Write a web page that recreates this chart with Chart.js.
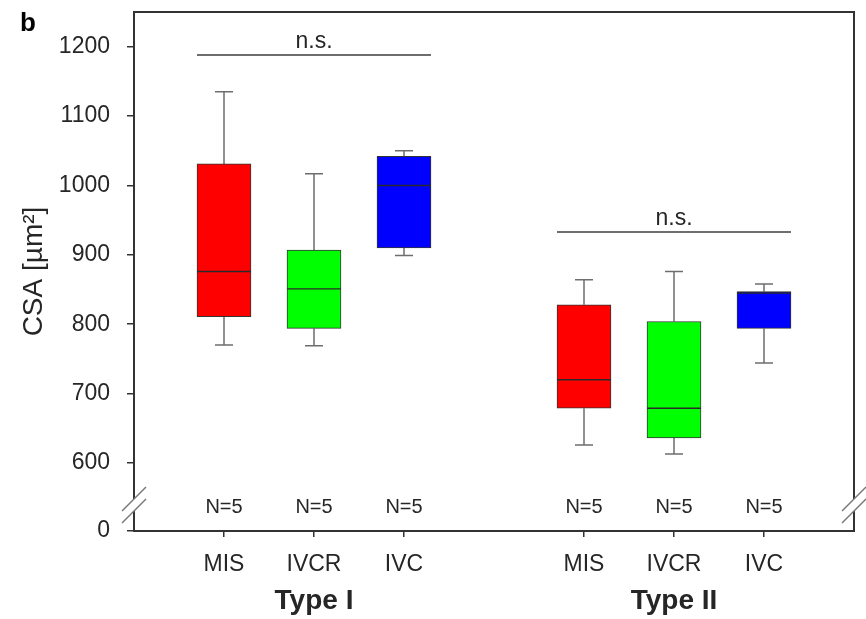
<!DOCTYPE html>
<html>
<head>
<meta charset="utf-8">
<script src="https://cdn.jsdelivr.net/npm/chart.js@4.4.1/dist/chart.umd.min.js"></script>
<style>
  html, body { margin: 0; padding: 0; background: #fff; }
  #wrap { width: 866px; height: 619px; position: relative; }
</style>
</head>
<body>
<div id="wrap"><canvas id="chart"></canvas></div>
<script>
const groups = ['Type I', 'Type II'];
const methods = ['MIS', 'IVCR', 'IVC'];
const methodColors = ['#ff0000', '#00ff00', '#0000ff'];
// one entry per box: Type I MIS, IVCR, IVC, then Type II MIS, IVCR, IVC
const whiskerLow  = [770, 769, 899, 626, 613, 744];
const boxLow      = [811, 794, 910, 679, 636, 794];
const medians     = [876, 851, 1000, 720, 679, 845];
const boxHigh     = [1031, 907, 1042, 828, 804, 847];
const whiskerHigh = [1135, 1017, 1050, 864, 876, 858];
const sampleSizes = [5, 5, 5, 5, 5, 5];
const sigLevels = [1188, 933];
const sigLabels = ['n.s.', 'n.s.'];
const yTicks = [600, 700, 800, 900, 1000, 1100, 1200];
const yBreakValue = 502;   // bottom of the broken axis, labelled "0"
const yBreakLabel = '0';
const yMax = 1250;

const FONT = "'Liberation Sans', Arial, sans-serif";
const TEXT = '#262626';

// slots: empty, 3 methods, empty, 3 methods, empty
const labels = [''];
const slotBox = [null];
groups.forEach((g, gi) => {
  if (gi > 0) { labels.push(''); slotBox.push(null); }
  methods.forEach((m, mi) => { labels.push(m); slotBox.push(gi * methods.length + mi); });
});
labels.push(''); slotBox.push(null);

const boxPlot = {
  id: 'boxPlot',
  beforeDatasetsDraw(chart) {
    const { ctx, scales: { x, y } } = chart;
    ctx.save();
    ctx.strokeStyle = '#6e6e6e';
    ctx.lineWidth = 1.5;
    slotBox.forEach((b, i) => {
      if (b === null) return;
      const px = x.getPixelForValue(i);
      [[boxHigh[b], whiskerHigh[b]], [boxLow[b], whiskerLow[b]]].forEach(([from, to]) => {
        ctx.beginPath();
        ctx.moveTo(px, y.getPixelForValue(from));
        ctx.lineTo(px, y.getPixelForValue(to));
        ctx.moveTo(px - 9, y.getPixelForValue(to));
        ctx.lineTo(px + 9, y.getPixelForValue(to));
        ctx.stroke();
      });
    });
    ctx.restore();
  },
  afterDatasetsDraw(chart) {
    const { ctx, chartArea: a, scales: { x, y } } = chart;
    ctx.save();
    // medians
    ctx.strokeStyle = '#2a2a2a';
    ctx.lineWidth = 1.4;
    slotBox.forEach((b, i) => {
      if (b === null) return;
      const px = x.getPixelForValue(i);
      const py = y.getPixelForValue(medians[b]);
      ctx.beginPath();
      ctx.moveTo(px - 27, py);
      ctx.lineTo(px + 27, py);
      ctx.stroke();
    });
    // N labels
    ctx.fillStyle = TEXT;
    ctx.font = '20px ' + FONT;
    ctx.textAlign = 'center';
    ctx.textBaseline = 'alphabetic';
    slotBox.forEach((b, i) => {
      if (b === null) return;
      ctx.fillText('N=' + sampleSizes[b], x.getPixelForValue(i), a.bottom - 18);
    });
    // significance bars
    groups.forEach((g, gi) => {
      const first = slotBox.indexOf(gi * methods.length);
      const last = slotBox.indexOf(gi * methods.length + methods.length - 1);
      const x0 = x.getPixelForValue(first) - 27;
      const x1 = x.getPixelForValue(last) + 27;
      const py = y.getPixelForValue(sigLevels[gi]);
      ctx.strokeStyle = '#6e6e6e';
      ctx.lineWidth = 2;
      ctx.beginPath();
      ctx.moveTo(x0, py);
      ctx.lineTo(x1, py);
      ctx.stroke();
      ctx.font = '23px ' + FONT;
      ctx.fillText(sigLabels[gi], (x0 + x1) / 2, py - 7);
      // group name under the axis
      const mid = slotBox.indexOf(gi * methods.length + 1);
      ctx.font = 'bold 28px ' + FONT;
      ctx.fillText(g, x.getPixelForValue(mid), a.bottom + 78);
    });
    // frame
    ctx.strokeStyle = '#333';
    ctx.lineWidth = 2;
    ctx.strokeRect(a.left, a.top, a.right - a.left, a.bottom - a.top);
    // axis break on both sides
    const yb = a.bottom - 26;
    [a.left, a.right].forEach(ax => {
      ctx.fillStyle = '#fff';
      ctx.fillRect(ax - 3, yb - 6, 6, 12);
      ctx.strokeStyle = '#777';
      ctx.lineWidth = 1.5;
      [-6, 6].forEach(d => {
        ctx.beginPath();
        ctx.moveTo(ax - 12, yb + d + 12);
        ctx.lineTo(ax + 12, yb + d - 12);
        ctx.stroke();
      });
    });
    // panel letter
    ctx.fillStyle = '#000';
    ctx.font = 'bold 26px ' + FONT;
    ctx.textAlign = 'left';
    ctx.fillText('b', 20, 31);
    ctx.restore();
  }
};

new Chart(document.getElementById('chart'), {
  type: 'bar',
  data: {
    labels: labels,
    datasets: [{
      data: slotBox.map(b => b === null ? null : [boxLow[b], boxHigh[b]]),
      backgroundColor: slotBox.map(b => b === null ? 'transparent' : methodColors[b % methods.length]),
      borderColor: '#333',
      borderWidth: 1,
      borderSkipped: false,
      barThickness: 54
    }]
  },
  options: {
    responsive: true,
    maintainAspectRatio: false,
    animation: false,
    layout: { padding: { top: 12, right: 12, left: 0, bottom: 0 } },
    plugins: { legend: { display: false }, tooltip: { enabled: false } },
    scales: {
      x: {
        offset: false,
        border: { display: false },
        grid: {
          offset: false,
          drawOnChartArea: false,
          tickLength: 6,
          lineWidth: 1.5,
          color: c => labels[c.index] ? '#333' : 'transparent'
        },
        ticks: { autoSkip: false, maxRotation: 0, padding: 14, color: TEXT, font: { family: FONT, size: 23 } },
        afterFit: s => { s.height = 88; s.paddingLeft = 0; s.paddingRight = 0; }
      },
      y: {
        min: yBreakValue,
        max: yMax,
        border: { display: false },
        grid: { drawOnChartArea: false, tickLength: 7, lineWidth: 1.5, color: '#333' },
        afterBuildTicks: s => { s.ticks = [yBreakValue, ...yTicks].map(v => ({ value: v })); },
        ticks: {
          padding: 17,
          color: TEXT,
          font: { family: FONT, size: 23 },
          callback: v => v === yBreakValue ? yBreakLabel : v
        },
        title: { display: true, text: 'CSA [µm²]', color: TEXT, font: { family: FONT, size: 28 }, padding: { top: 17 } },
        afterFit: s => { s.width = 134; s.paddingTop = 0; s.paddingBottom = 0; }
      }
    }
  },
  plugins: [boxPlot]
});
</script>
</body>
</html>
